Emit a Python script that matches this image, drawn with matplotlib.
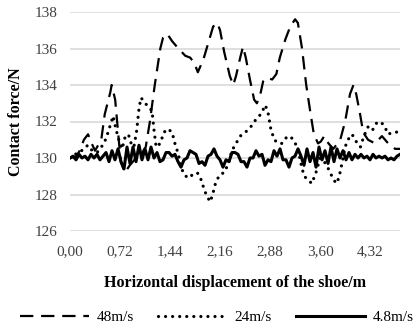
import numpy as np
import matplotlib
matplotlib.use("Agg")
import matplotlib.pyplot as plt

plt.rcParams['font.family'] = ['Liberation Serif', 'DejaVu Serif']

# 48m/s (trazo discontinuo)
x_48 = [0.00, 0.09, 0.14, 0.20, 0.26, 0.30, 0.36, 0.45, 0.50, 0.58,
        0.60, 0.65, 0.69, 0.73, 0.79, 0.86, 0.95, 1.04, 1.09, 1.15,
        1.22, 1.30, 1.34, 1.40, 1.47, 1.56, 1.66, 1.73, 1.79, 1.84,
        1.92, 1.99, 2.06, 2.12, 2.16, 2.22, 2.30, 2.35, 2.39, 2.45,
        2.49, 2.53, 2.59, 2.65, 2.69, 2.74, 2.78, 2.84, 2.91, 2.97,
        3.02, 3.10, 3.17, 3.24, 3.28, 3.34, 3.40, 3.46, 3.51, 3.57,
        3.61, 3.66, 3.72, 3.79, 3.89, 3.96, 4.03, 4.08, 4.12, 4.18,
        4.22, 4.29, 4.39, 4.49, 4.58, 4.68, 4.75]
f_48 = [130.0, 130.1, 130.4, 131.0, 131.3, 130.9, 130.4, 131.0, 132.4, 133.6,
        134.0, 133.2, 131.5, 129.8, 129.2, 129.6, 130.0, 130.3, 130.6, 132.0,
        134.0, 136.0, 136.6, 136.8, 136.4, 136.0, 135.6, 135.5, 135.2, 134.7,
        135.4, 136.3, 137.2, 137.4, 137.0, 135.8, 134.5, 134.0, 134.5, 135.5,
        136.1, 135.5, 134.3, 133.2, 133.0, 133.5, 134.2, 134.4, 134.3, 134.6,
        135.5, 136.5, 137.2, 137.6, 137.4, 136.0, 134.0, 132.5, 131.3, 130.8,
        130.9, 131.2, 130.8, 130.5, 131.0, 132.0, 133.5, 134.0, 133.5, 132.3,
        131.4, 131.0, 130.8, 131.2, 130.8, 130.5, 130.5]

# 24m/s (punteado)
x_24 = [0.00, 0.07, 0.14, 0.22, 0.26, 0.32, 0.39, 0.43, 0.49, 0.53,
        0.58, 0.62, 0.66, 0.71, 0.75, 0.79, 0.84, 0.88, 0.92, 0.96,
        0.99, 1.02, 1.07, 1.12, 1.18, 1.21, 1.24, 1.30, 1.35, 1.41,
        1.47, 1.51, 1.56, 1.60, 1.64, 1.70, 1.77, 1.83, 1.87, 1.93,
        1.97, 2.02, 2.06, 2.10, 2.16, 2.22, 2.28, 2.33, 2.39, 2.45,
        2.52, 2.58, 2.64, 2.69, 2.75, 2.81, 2.85, 2.89, 2.94, 3.00,
        3.05, 3.11, 3.17, 3.23, 3.28, 3.33, 3.37, 3.43, 3.48, 3.54,
        3.60, 3.66, 3.72, 3.77, 3.83, 3.87, 3.92, 3.96, 4.00, 4.06,
        4.12, 4.18, 4.23, 4.29, 4.35, 4.41, 4.46, 4.52, 4.58, 4.64,
        4.69, 4.75]
f_24 = [130.0, 130.2, 130.3, 130.6, 130.7, 130.4, 130.3, 130.5, 130.8, 131.2,
        131.8, 132.3, 131.6, 130.9, 130.5, 131.1, 131.3, 130.8, 130.6, 131.5,
        132.6, 133.3, 133.1, 132.8, 132.6, 131.5, 130.6, 130.8, 131.4, 131.6,
        131.4, 130.8, 130.2, 129.5, 129.1, 128.9, 129.1, 129.2, 129.0, 128.3,
        127.9, 127.6, 128.1, 128.7, 129.1, 129.2, 129.7, 130.4, 130.8, 131.2,
        131.4, 131.6, 131.9, 132.2, 132.4, 132.9, 132.5, 131.6, 131.0, 130.8,
        130.8, 131.1, 131.2, 130.9, 130.5, 129.6, 129.0, 128.8, 128.6, 129.2,
        130.0, 129.8, 129.4, 129.0, 128.6, 128.9, 129.8, 130.6, 131.0, 131.3,
        130.9, 130.6, 131.2, 131.7, 131.5, 131.9, 132.0, 131.8, 131.3, 131.4,
        131.4, 131.5]

# 4.8m/s (continuo), muestreado a paso constante
f_4_8 = [130.0, 130.1, 129.9, 130.2, 130.0, 130.1, 129.9, 130.2, 130.0, 130.2, 129.9, 130.1,
         130.3, 129.8, 130.4, 129.9, 130.5, 129.8, 129.4, 130.6, 129.7, 130.6,
         129.8, 130.7, 129.9, 130.5, 129.9, 130.6, 130.0, 130.3, 129.8,
         129.9, 130.3, 130.3, 130.1, 130.2, 129.8, 129.5, 129.9, 130.0, 130.4,
         130.3, 130.2, 129.7, 129.8, 129.6, 130.1, 130.2, 130.5, 130.1, 129.9,
         129.5, 129.9, 129.8, 130.3, 130.3, 130.2, 129.8, 129.8, 129.5, 130.0,
         130.0, 130.4, 130.1, 130.2, 129.6, 129.9, 129.8, 130.4, 130.1, 130.5,
         129.9, 129.9, 129.5, 130.0, 130.1, 130.5,
         130.1, 129.6, 130.5, 129.8, 130.3, 129.5, 130.6, 129.9, 130.4, 129.7,
         130.6, 129.8, 130.5, 130.0, 130.4, 129.9,
         130.3, 129.9, 130.2, 130.0, 130.2, 130.0, 130.1, 129.9, 130.2, 130.0,
         130.1, 130.0, 130.1, 129.9, 130.0, 129.9, 130.1, 130.2]
x_4_8 = np.linspace(0, 4.75, len(f_4_8))

x_ticks = [0.00, 0.72, 1.44, 2.16, 2.88, 3.60, 4.32]
x_tick_labels = ['0,00', '0,72', '1,44', '2,16', '2,88', '3,60', '4,32']
y_ticks = [126, 128, 130, 132, 134, 136, 138]

fig = plt.figure(figsize=(4.17, 3.26), dpi=100)
ax = fig.add_axes([70 / 417, 1 - 231 / 326, 330 / 417, 219 / 326])

l1, = ax.plot(x_48, f_48, color='black', lw=1.6, linestyle=(0, (6, 3.5)),
              label='48m/s')
l2, = ax.plot(x_24, f_24, color='black', lw=2.3, linestyle=(0, (0.01, 2.2)),
              dash_capstyle='round', label='24m/s')
l3, = ax.plot(x_4_8, f_4_8, color='black', lw=2.2, label='4.8m/s')

ax.set_xlim(0, 4.75)
ax.set_ylim(126, 138)
ax.set_xticks(x_ticks)
ax.set_xticklabels(x_tick_labels)
ax.set_yticks(y_ticks)
ax.grid(axis='y', color='#d9d9d9', lw=1.2)
ax.set_axisbelow(True)
for s in ax.spines.values():
    s.set_visible(False)
ax.tick_params(length=0, labelsize=11, labelcolor='#404040')
ax.tick_params(axis='x', pad=10)
ax.tick_params(axis='y', pad=9)

ax.set_xlabel('Horizontal displacement of the shoe/m', fontsize=11.5,
              fontweight='bold', labelpad=12)
ax.set_ylabel('Contact force/N', fontsize=11.5, fontweight='bold', labelpad=8)

fig.legend(handles=[l1, l2, l3], loc='center left',
           bbox_to_anchor=(20 / 417, 1 - 317 / 326), ncol=3, frameon=False,
           fontsize=11, handlelength=4.5, handletextpad=0.5,
           columnspacing=1.6, borderpad=0, borderaxespad=0)

fig.savefig('out.png', dpi=100)
